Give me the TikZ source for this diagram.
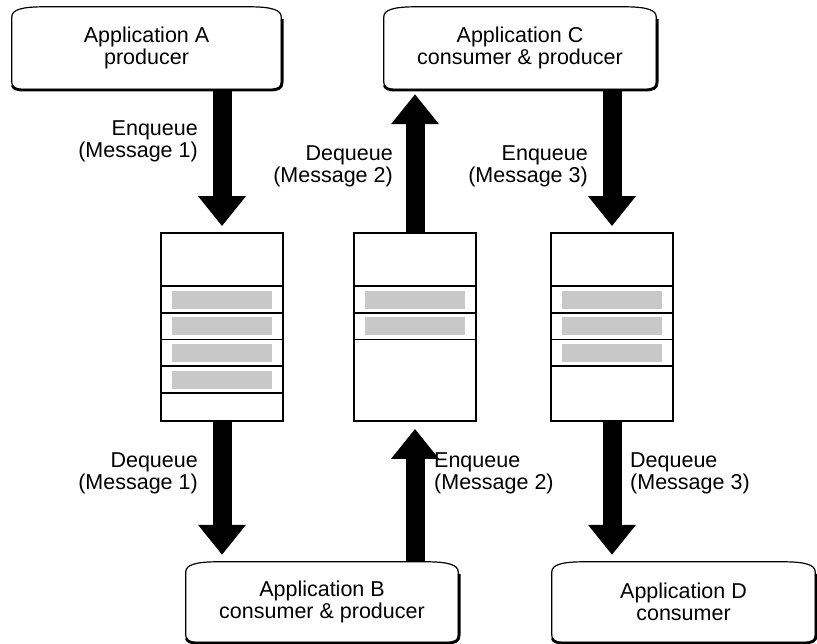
\documentclass[tikz,border=0pt]{standalone}
\usepackage{fontspec}
\setmainfont{Liberation Sans}
\usetikzlibrary{arrows.meta,calc}
\definecolor{qgray}{RGB}{200,200,200}
\newcommand\appshape[1]{%
  \draw[line width=1.2pt] let \p1=(#1.north west), \p2=(#1.south east) in
    (\x1,\y1-10pt) -- (\x1,\y2+7pt) .. controls (\x1,\y2+2pt) and (\x1+3pt,\y2) .. (\x1+12pt,\y2)
    -- (\x2-12pt,\y2) .. controls (\x2-3pt,\y2) and (\x2,\y2+2pt) .. (\x2,\y2+7pt)
    -- (\x2,\y1-10pt) .. controls (\x2,\y1-3pt) and (\x2-10pt,\y1) .. (\x2-32pt,\y1)
    -- (\x1+32pt,\y1) .. controls (\x1+10pt,\y1) and (\x1,\y1-3pt) .. (\x1,\y1-10pt) -- cycle;
  \draw[line width=2.6pt] let \p1=(#1.north west), \p2=(#1.south east) in
    (\x2+1pt,\y1-12pt) -- (\x2+1pt,\y2+7pt) .. controls (\x2+1pt,\y2+1pt) and (\x2-3pt,\y2-1pt) .. (\x2-12pt,\y2-1pt)
    -- (\x1+12pt,\y2-1pt) .. controls (\x1+4pt,\y2-1pt) and (\x1+1pt,\y2+1pt) .. (\x1+0.5pt,\y2+4pt);
}
\begin{document}
\begin{tikzpicture}[x=1pt,y=-1pt,
  txt/.style={font=\fontsize{21.5}{22}\selectfont},
  app/.style={txt, minimum width=#1, minimum height=82pt, inner sep=0pt, align=center},
  queue/.style={draw, line width=1.8pt, minimum width=122pt, minimum height=188pt, inner sep=0pt},
  bigarrow/.style={line width=19pt, -{Triangle[length=30pt,width=46pt]}},
  lbl/.style={txt, inner sep=0pt}]
\useasboundingbox (0,0) rectangle (817,644);
% applications
\node[app=269pt] (appA) at (146.5,48) {Application A\\producer};
\node[app=272pt] (appC) at (520,48) {Application C\\consumer \& producer};
\node[app=272pt, minimum height=80pt] (appB) at (322,602) {Application B\\consumer \& producer};
\node[app=263pt, minimum height=80pt] (appD) at (683.5,602) {Application D\\consumer};
\appshape{appA}\appshape{appC}\appshape{appB}\appshape{appD}
% queues
\node[queue] (q1) at (222,327) {};
\node[queue] (q2) at (415,327) {};
\node[queue] (q3) at (612,327) {};
\foreach \q/\nb/\nd in {q1/3/4, q2/1/2, q3/2/3}{
  \foreach \i in {0,...,\nb}{
    \fill[qgray] ($(\q.north west)+(12,58.5+26.67*\i)$) rectangle ($(\q.north east)+(-12,76.5+26.67*\i)$);
  }
  \foreach \i in {0,...,\nd}{
    \draw[line width=1.8pt] ($(\q.north west)+(0,54+26.67*\i)$) -- ($(\q.north east)+(0,54+26.67*\i)$);
  }
}
% arrows
\draw[bigarrow] (q1.north |- appA.south) -- ($(q1.north)+(0,-6)$);
\draw[bigarrow] (q2.north) -- ($(q2.north |- appC.south)+(0,5)$);
\draw[bigarrow] (q3.north |- appC.south) -- ($(q3.north)+(0,-6)$);
\draw[bigarrow] (q1.south) -- ($(q1.south |- appB.north)+(0,-7)$);
\draw[bigarrow] (q2.south |- appB.north) -- ($(q2.south)+(0,7)$);
\draw[bigarrow] (q3.south) -- ($(q3.south |- appD.north)+(0,-7)$);
% labels
\node[lbl, anchor=east, align=right] (l1) at (198,141) {Enqueue\\(Message 1)};
\node[lbl, anchor=east, align=right] (l2) at (393,166) {Dequeue\\(Message 2)};
\node[lbl, anchor=east, align=right] (l3) at (588,166) {Enqueue\\(Message 3)};
\node[lbl, anchor=east, align=right] (l4) at (198,473) {Dequeue\\(Message 1)};
\node[lbl, anchor=west, align=left] (l5) at (434,473) {Enqueue\\(Message 2)};
\node[lbl, anchor=west, align=left] (l6) at (630,473) {Dequeue\\(Message 3)};
\end{tikzpicture}
\end{document}
